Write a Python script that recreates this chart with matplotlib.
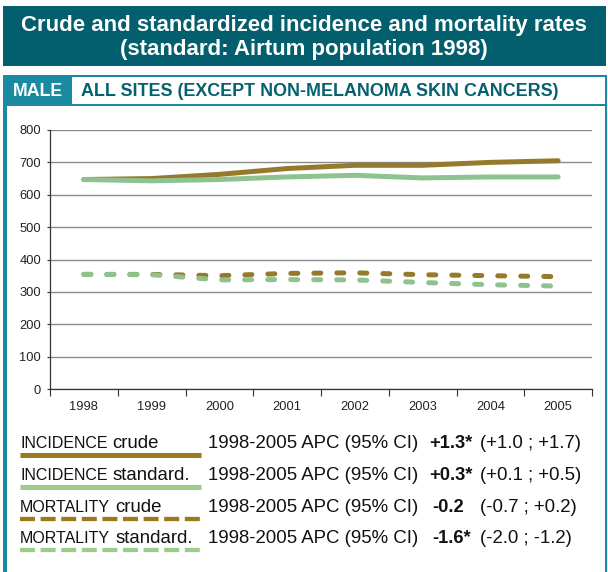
import matplotlib
matplotlib.use("Agg")
import matplotlib.pyplot as plt
from matplotlib.patches import Rectangle
from matplotlib.lines import Line2D

# ---------------- data ----------------
years = ["1998", "1999", "2000", "2001", "2002", "2003", "2004", "2005"]
inc_crude = [647, 650, 663, 681, 691, 691, 700, 705]
inc_std = [647, 643, 647, 655, 660, 652, 655, 655]
mort_crude = [354, 354, 350, 357, 359, 353, 350, 347]
mort_std = [354, 353, 337, 338, 337, 329, 322, 318]
y_ticks = [0, 100, 200, 300, 400, 500, 600, 700, 800]

title_lines = ["Crude and standardized incidence and mortality rates",
               "(standard: Airtum population 1998)"]
sex_label = "MALE"
site_label = "ALL SITES (EXCEPT NON-MELANOMA SKIN CANCERS)"
legend_kind = ["INCIDENCE", "INCIDENCE", "MORTALITY", "MORTALITY"]
legend_type = ["crude", "standard.", "crude", "standard."]
legend_period = ["1998-2005 APC (95% CI)"] * 4
legend_apc = ["+1.3*", "+0.3*", "-0.2", "-1.6*"]
legend_ci = ["(+1.0 ; +1.7)", "(+0.1 ; +0.5)", "(-0.7 ; +0.2)", "(-2.0 ; -1.2)"]

# ---------------- style ----------------
W, H = 608, 572
DPI = 100
BROWN = "#967a2c"
GREEN = "#8ec390"
LEG_BROWN = "#9b7a1f"
LEG_GREEN = "#9ccb8b"
TITLE_BG = "#035f6d"
TEAL = "#1a8aa1"
DARK_TEAL = "#05606f"

plt.rcParams["font.family"] = ["Liberation Sans", "DejaVu Sans"]

fig = plt.figure(figsize=(W / DPI, H / DPI), dpi=DPI)
fig.patch.set_facecolor("white")

# overlay in pixel coordinates (y downward)
ov = fig.add_axes([0, 0, 1, 1], zorder=0)
ov.set_xlim(0, W)
ov.set_ylim(H, 0)
ov.axis("off")

# title band
ov.add_patch(Rectangle((3, 6), 603, 60, facecolor=TITLE_BG, edgecolor="none"))
ov.text(304, 30.5, title_lines[0], color="white", fontsize=16.0, fontweight="bold",
        ha="center", va="baseline")
ov.text(304, 54.5, title_lines[1], color="white", fontsize=16.0, fontweight="bold",
        ha="center", va="baseline")

# panel
ov.add_patch(Rectangle((3, 75), 604, H - 75, facecolor=TEAL, edgecolor="none"))
ov.add_patch(Rectangle((6.5, 106), 598, H - 106, facecolor="white", edgecolor="none"))
ov.add_patch(Rectangle((72, 77), 533, 27, facecolor="white", edgecolor="none"))
ov.text(12.5, 96.5, sex_label, color="white", fontsize=12.8, fontweight="bold",
        ha="left", va="baseline")
ov.text(81, 96.5, site_label, color=DARK_TEAL, fontsize=12.9, fontweight="bold",
        ha="left", va="baseline")

# ---------------- chart ----------------
ax_l, ax_r, ax_t, ax_b = 50, 592, 130, 389
ax = fig.add_axes([ax_l / W, 1 - ax_b / H, (ax_r - ax_l) / W, (ax_b - ax_t) / H],
                  zorder=2)
ax.patch.set_alpha(0)
x = list(range(len(years)))

lw = 5 * 72 / DPI
ax.plot(x, inc_crude, color=BROWN, lw=lw, solid_capstyle="round",
        solid_joinstyle="round", zorder=3)
ax.plot(x, inc_std, color=GREEN, lw=lw, solid_capstyle="round",
        solid_joinstyle="round", zorder=4)
ax.plot(x, mort_crude, color=BROWN, lw=lw, dashes=(1.4, 3.2),
        dash_capstyle="round", zorder=3)
ax.plot(x, mort_std, color=GREEN, lw=lw, dashes=(1.4, 3.2),
        dash_capstyle="round", zorder=4)

ax.set_xlim(-0.5, len(years) - 0.5)
ax.set_ylim(0, 800)
ax.set_yticks(y_ticks)
ax.set_xticks(x)
ax.set_xticklabels(years)
ax.set_xticks([i - 0.5 for i in range(len(years) + 1)], minor=True)
ax.tick_params(axis="x", which="major", length=0, pad=9, labelsize=9.3,
               labelcolor="#222222")
ax.tick_params(axis="x", which="minor", length=5, width=0.8, color="#333333",
               direction="out")
ax.tick_params(axis="y", which="major", length=2.5, width=0.8, color="#333333",
               pad=4, labelsize=9.3, labelcolor="#222222")
ax.yaxis.grid(True, color="#8a8a8a", lw=1.0)
ax.set_axisbelow(True)
for s in ["top", "right"]:
    ax.spines[s].set_visible(False)
for s in ["left", "bottom"]:
    ax.spines[s].set_color("#333333")
    ax.spines[s].set_linewidth(0.9)

# ---------------- legend ----------------
renderer = fig.canvas.get_renderer()
baselines = [448, 480, 511.5, 543]
line_y = [454.5, 486.5, 518.7, 550.3]
colors = [LEG_BROWN, LEG_GREEN, LEG_BROWN, LEG_GREEN]
styles = ["solid", "solid", "dashed", "dashed"]
apc_x = [429, 429, 432, 432]

for i in range(4):
    yb = baselines[i]
    t1 = ov.text(20, yb, legend_kind[i], fontsize=11.5, color="#111111",
                 ha="left", va="baseline")
    w1 = t1.get_window_extent(renderer).width
    ov.text(20 + w1 + 0.278 * 18.5, yb, legend_type[i], fontsize=13.4,
            color="#111111", ha="left", va="baseline")
    ov.text(208, yb, legend_period[i], fontsize=13.4, color="#111111",
            ha="left", va="baseline")
    ov.text(apc_x[i], yb, legend_apc[i], fontsize=13.2, fontweight="bold",
            color="#111111", ha="left", va="baseline")
    ov.text(480, yb, legend_ci[i], fontsize=13.4, color="#111111",
            ha="left", va="baseline")
    if styles[i] == "solid":
        ov.add_line(Line2D([20, 200.5], [line_y[i], line_y[i]], color=colors[i],
                           lw=5 * 72 / DPI, solid_capstyle="butt"))
    else:
        ov.add_line(Line2D([20, 200.5], [line_y[i], line_y[i]], color=colors[i],
                           lw=4.3 * 72 / DPI, dash_capstyle="butt",
                           dashes=(15 / 4.3, 5.6 / 4.3)))

fig.savefig("out.png", dpi=DPI)
